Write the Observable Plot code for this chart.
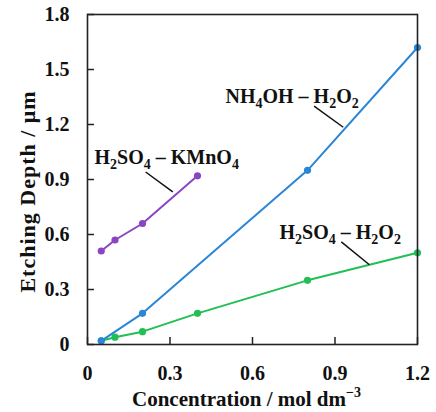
<!DOCTYPE html>
<html><head><meta charset="utf-8">
<script src="https://cdn.jsdelivr.net/npm/d3@7"></script>
<script src="https://cdn.jsdelivr.net/npm/@observablehq/plot@0.6"></script>
<style>body{margin:0;background:#fff}</style>
</head><body><div id="chart"></div>
<script>
// ---- data ----
const xTicks = [0, 0.3, 0.6, 0.9, 1.2];
const yTicks = [0, 0.3, 0.6, 0.9, 1.2, 1.5, 1.8];

const seriesNames  = ["H2SO4 – H2O2", "H2SO4 – KMnO4", "NH4OH – H2O2"];
const seriesColors = ["#22bf55", "#8b45c4", "#2a86d6"];

const h2o2X  = [0.05, 0.1, 0.2, 0.4, 0.8, 1.2];
const h2o2Y  = [0.02, 0.04, 0.07, 0.17, 0.35, 0.50];
const kmno4X = [0.05, 0.1, 0.2, 0.4];
const kmno4Y = [0.51, 0.57, 0.66, 0.92];
const nh4ohX = [0.05, 0.2, 0.8, 1.2];
const nh4ohY = [0.02, 0.17, 0.95, 1.62];

// annotation labels (data coordinates) and leader lines
const labelX   = [0.919, 0.288, 0.744];
const labelY   = [0.609, 1.022, 1.354];
const leaderX1 = [0.923, 0.2115, 0.824];
const leaderY1 = [0.560, 0.941, 1.300];
const leaderX2 = [1.025, 0.310, 0.930];
const leaderY2 = [0.435, 0.832, 1.185];

const xLabel = "Concentration / mol dm−3";
const yLabel = "Etching Depth / μm";

// ---- build tables ----
const seriesX = [h2o2X, kmno4X, nh4ohX];
const seriesY = [h2o2Y, kmno4Y, nh4ohY];
const rows = seriesNames.flatMap((s, k) => seriesX[k].map((x, i) => ({series: s, x, y: seriesY[k][i]})));
const labels = seriesNames.map((s, k) => ({text: s, x: labelX[k], y: labelY[k], x1: leaderX1[k], y1: leaderY1[k], x2: leaderX2[k], y2: leaderY2[k]}));

const W = 436, H = 412, mL = 87, mR = 19, mT = 14, mB = 68;
const plotW = W - mL - mR, plotH = H - mT - mB;
const ink = "#222";

const seriesMarks = seriesNames.flatMap((s, k) => {
  const d = rows.filter(r => r.series === s);
  return [
    Plot.line(d, {x: "x", y: "y", stroke: seriesColors[k], strokeWidth: 2}),
    Plot.dot(d, {x: "x", y: "y", r: 3.6, fill: seriesColors[k], stroke: "none"})
  ];
});

const chart = Plot.plot({
  width: W, height: H,
  marginLeft: mL, marginRight: mR, marginTop: mT, marginBottom: mB,
  style: {fontFamily: "'Liberation Serif', 'Times New Roman', serif", fontSize: "20px", fontWeight: "bold", color: "#111", background: "#fff"},
  x: {domain: [0, 1.2]},
  y: {domain: [0, 1.8]},
  marks: [
    Plot.axisX(xTicks, {tickSize: 0, tickPadding: 21, label: null, tickFormat: d => String(d), fontSize: 20}),
    Plot.axisY(yTicks, {tickSize: 0, tickPadding: 18, label: null, tickFormat: d => String(d), fontSize: 20}),
    Plot.tickX(xTicks, {x: d => d, insetTop: plotH - 7, stroke: ink, strokeWidth: 1.5}),
    Plot.tickY(yTicks, {y: d => d, insetRight: plotW - 7, stroke: ink, strokeWidth: 1.5}),
    ...seriesMarks,
    Plot.link(labels, {x1: "x1", y1: "y1", x2: "x2", y2: "y2", stroke: "#111", strokeWidth: 1.5}),
    Plot.text(labels, {x: "x", y: "y", text: "text", fontSize: 20, fill: "#111"}),
    Plot.text([xLabel], {frameAnchor: "bottom", textAnchor: "middle", dy: 61, dx: -6, text: d => d, fontSize: 21, fill: "#111"}),
    Plot.text([yLabel], {frameAnchor: "left", textAnchor: "middle", rotate: -90, dx: -60, dy: 12, text: d => d, fontSize: 22, fill: "#111"}),
    Plot.frame({stroke: ink, strokeWidth: 1.6})
  ]
});
document.getElementById("chart").appendChild(chart);

// ---- typographic post-processing: chemical subscripts, superscript ----
d3.select(chart).selectAll("text").each(function () {
  const t = this.textContent;
  if (t.includes("–") && /[A-Z]\d/.test(t)) {
    const sel = d3.select(this);
    sel.text(null);
    const parts = t.match(/\d+|\D+/g);
    let sub = false;
    parts.forEach(p => {
      const isNum = /^\d+$/.test(p);
      const ts = sel.append("tspan").text(p);
      if (isNum) { ts.attr("font-size", 14).attr("dy", sub ? 0 : 5); sub = true; }
      else { if (sub) ts.attr("dy", -5); sub = false; }
    });
  } else if (t.endsWith("−3")) {
    const sel = d3.select(this);
    sel.text(null);
    sel.append("tspan").text(t.slice(0, -2));
    sel.append("tspan").text("−3").attr("font-size", 14).attr("dy", -9);
  } else if (t === yLabel) {
    d3.select(this).attr("letter-spacing", "1px");
  }
});
</script>
</body></html>
